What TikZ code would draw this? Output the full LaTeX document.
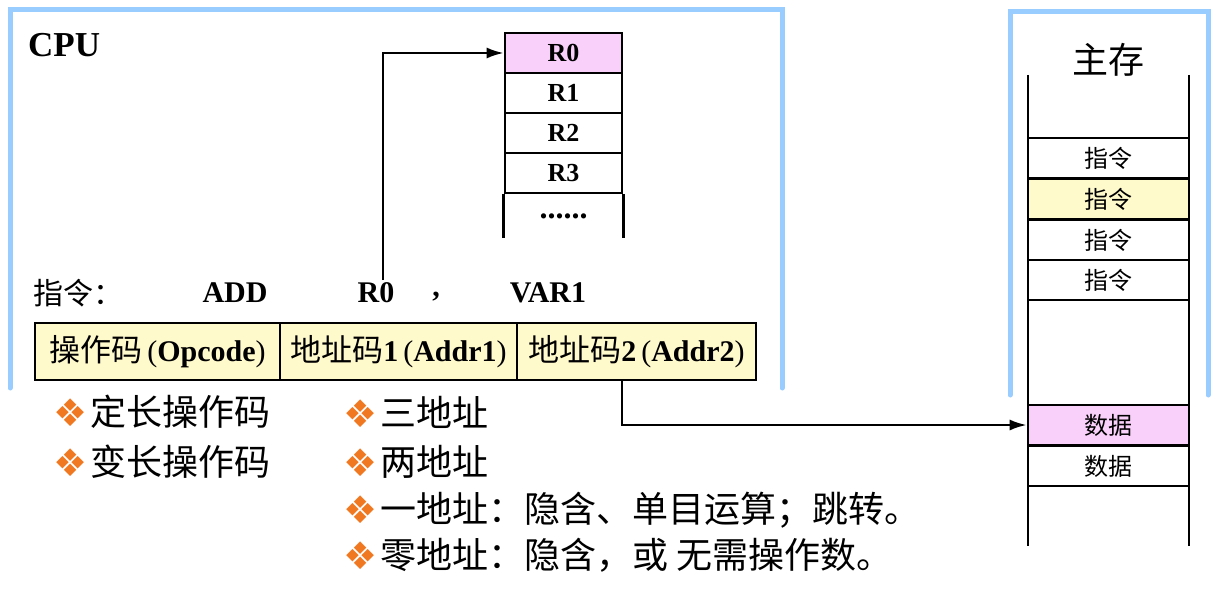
\documentclass[tikz,border=0pt]{standalone}
\usepackage{fontspec}
\setmainfont{Liberation Serif}
\newfontfamily\cjk{Noto Sans CJK SC}
\newfontfamily\symf{DejaVu Sans}
\usetikzlibrary{arrows.meta}
\definecolor{frameblue}{HTML}{99CCFF}
\definecolor{regpink}{HTML}{F9D0F9}
\definecolor{fmtyellow}{HTML}{FFFACC}
\definecolor{bulorange}{HTML}{F07820}
\newcommand{\fsz}[1]{\fontsize{#1}{#1}\selectfont}
\newcommand{\bul}{{\symf\color{bulorange}\fsz{38}\raisebox{-1pt}{❖}}\hspace{3pt}}
\begin{document}
\begin{tikzpicture}[x=1pt,y=-1pt,
  frame/.style={draw=frameblue, line width=5pt, line cap=round},
  reg/.style={draw, line width=2.6pt, minimum width=117pt, minimum height=40pt, inner sep=0pt, font=\fsz{26}\bfseries},
  mem/.style={draw, line width=2.6pt, minimum width=161pt, minimum height=40pt, inner sep=0pt, font=\cjk\fsz{24}},
  fmt/.style={draw, line width=2.6pt, fill=fmtyellow, minimum height=57pt, inner sep=0pt, font=\fsz{30}},
  arr/.style={line width=2.4pt, -{Latex[length=17pt,width=11pt]}},
  bultext/.style={anchor=west, inner sep=0pt, font=\cjk\fsz{36}},
  instr/.style={inner sep=0pt, font=\fsz{30}\bfseries},
  col/.style={line width=2.6pt}]
\useasboundingbox (0,0) rectangle (1220,612);
% frames
\draw[frame] (10,388) -- (10,10) -- (782,10) -- (782,388);
\draw[frame] (1010,395) -- (1010,12) -- (1208,12) -- (1208,395);
% CPU label
\node[anchor=west, inner sep=0pt, font=\fsz{35}\bfseries] (cpu) at (28,45) {CPU};
% registers
\node[reg, fill=regpink] (r0) at (563.5,53) {R0};
\node[reg] (r1) at (563.5,93) {R1};
\node[reg] (r2) at (563.5,133) {R2};
\node[reg] (r3) at (563.5,173) {R3};
\node[inner sep=0pt, font=\fsz{32}\bfseries] (rdots) at (563.5,216) {......};
\draw[col] (r3.south west) -- ++(0,44);
\draw[col] (r3.south east) -- ++(0,44);
% instruction line
\node[anchor=west, inner sep=0pt, font=\cjk\fsz{30}] (zl) at (33,293) {指令：};
\node[instr] (iadd) at (235,293) {ADD};
\node[instr] (ir0) at (376,293) {R0};
\node[instr] (icomma) at (436,297) {,};
\node[instr] (ivar) at (548,293) {VAR1};
% format
\node[fmt, minimum width=245pt] (f1) at (157.5,351.5) {{\cjk\fsz{31}操作码}\,(\textbf{Opcode})};
\node[fmt, minimum width=237pt] (f2) at (398.5,351.5) {{\cjk\fsz{31}地址码}\textbf{1}\,(\textbf{Addr1})};
\node[fmt, minimum width=239pt] (f3) at (636.5,351.5) {{\cjk\fsz{31}地址码}\textbf{2}\,(\textbf{Addr2})};
% memory
\node[inner sep=0pt, font=\cjk\fsz{36}] (mm) at (1108,60) {主存};
\draw[col] (1028,75) -- (1028,546);
\draw[col] (1189,75) -- (1189,546);
\node[mem] (m1) at (1108.5,158) {指令};
\node[mem, fill=fmtyellow] (m2) at (1108.5,199) {指令};
\node[mem] (m3) at (1108.5,240) {指令};
\node[mem] (m4) at (1108.5,280) {指令};
\node[mem, fill=regpink] (d1) at (1108.5,425) {数据};
\node[mem] (d2) at (1108.5,466) {数据};
% arrows
\coordinate (a1) at (383,280);
\coordinate (a2) at (622,380);
\draw[arr] (a1) |- (r0.west);
\draw[arr] (a2) |- (d1.west);
% bullets
\node[bultext] (b1) at (53,412) {\bul 定长操作码};
\node[bultext] (b2) at (53,462) {\bul 变长操作码};
\node[bultext] (b3) at (343,412) {\bul 三地址};
\node[bultext] (b4) at (343,462) {\bul 两地址};
\node[bultext] (b5) at (343,510) {\bul 一地址：隐含、单目运算；跳转。};
\node[bultext] (b6) at (343,555) {\bul 零地址：隐含，或 无需操作数。};
\end{tikzpicture}
\end{document}
